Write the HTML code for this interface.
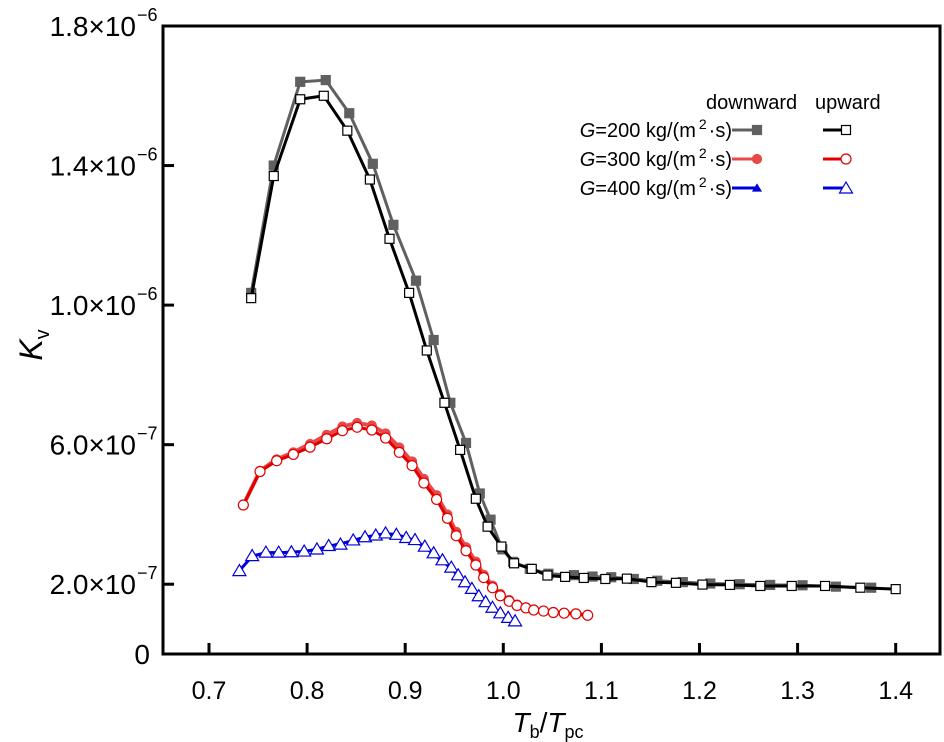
<!DOCTYPE html>
<html><head><meta charset="utf-8"><style>
body{margin:0;background:#fff;}
svg{display:block;font-family:"Liberation Sans",Arial,sans-serif;}
</style></head><body>
<svg id="chart" width="944" height="742" viewBox="0 0 944 742" xmlns="http://www.w3.org/2000/svg"></svg>
<script>
// Data (K_v in units of 1e-7)
const g200UpT = [0.743,0.766,0.793,0.817,0.841,0.864,0.884,0.904,0.922,0.940,0.956,0.972,0.984,0.998,1.011,1.029,1.045,1.063,1.082,1.104,1.126,1.151,1.176,1.203,1.231,1.262,1.294,1.328,1.364,1.400];
const g200UpV = [10.2,13.7,15.9,16.0,15.0,13.6,11.9,10.35,8.7,7.2,5.85,4.45,3.65,3.08,2.6,2.44,2.25,2.21,2.18,2.15,2.16,2.06,2.04,1.99,1.98,1.95,1.95,1.95,1.90,1.86];
const g200DownT = [0.743,0.766,0.793,0.819,0.843,0.867,0.888,0.911,0.929,0.946,0.962,0.976,0.987,0.999,1.010,1.027,1.046,1.072,1.091,1.110,1.133,1.157,1.183,1.211,1.241,1.272,1.305,1.339,1.375];
const g200DownV = [10.35,14.0,16.4,16.45,15.5,14.05,12.3,10.7,9.0,7.2,6.05,4.6,3.85,3.0,2.64,2.44,2.3,2.26,2.22,2.2,2.15,2.1,2.06,2.02,2.0,1.98,1.97,1.93,1.9];
const g300UpT = [0.735,0.752,0.769,0.786,0.803,0.820,0.836,0.851,0.866,0.880,0.894,0.907,0.919,0.932,0.943,0.952,0.962,0.972,0.980,0.989,0.997,1.006,1.014,1.023,1.031,1.041,1.051,1.062,1.074,1.086];
const g300UpV = [4.27,5.23,5.54,5.72,5.93,6.17,6.40,6.50,6.42,6.19,5.78,5.40,4.90,4.43,3.89,3.39,2.96,2.55,2.19,1.90,1.67,1.51,1.39,1.32,1.26,1.23,1.19,1.17,1.15,1.11];
const g300DownV = [4.27,5.25,5.58,5.78,6.02,6.28,6.52,6.62,6.55,6.32,5.92,5.52,5.02,4.55,4.0,3.5,3.06,2.65,2.27,1.96,1.72,1.55,1.42,1.34,1.28,1.24,1.2,1.18,1.15,1.11];
const g400UpT = [0.731,0.744,0.758,0.771,0.784,0.797,0.810,0.822,0.834,0.847,0.859,0.870,0.880,0.891,0.901,0.910,0.920,0.929,0.938,0.947,0.954,0.961,0.968,0.975,0.982,0.989,0.997,1.005,1.012];
const g400UpV = [2.39,2.82,2.92,2.92,2.93,2.95,3.01,3.11,3.15,3.27,3.36,3.41,3.47,3.43,3.34,3.28,3.09,2.90,2.70,2.49,2.27,2.07,1.88,1.67,1.50,1.34,1.18,1.05,0.95];
const g400DownV = [2.39,2.80,2.90,2.90,2.92,2.94,3.0,3.09,3.16,3.25,3.35,3.4,3.45,3.42,3.34,3.24,3.06,2.86,2.66,2.45,2.24,2.04,1.85,1.65,1.48,1.32,1.16,1.03,0.93];
const xTicks = [0.7,0.8,0.9,1.0,1.1,1.2,1.3,1.4];
const xTickLabels = ["0.7","0.8","0.9","1.0","1.1","1.2","1.3","1.4"];
const yTicks = [0,2,6,10,14,18];
const yTickMant = ["0","2.0","6.0","1.0","1.4","1.8"];
const yTickExp = ["","\u22127","\u22127","\u22126","\u22126","\u22126"];

const svg = document.getElementById('chart');
const NS = 'http://www.w3.org/2000/svg';
const L=163,R=940,T=26,B=654;
const xMin=0.7-46/981, xMax=0.7+(940-209)/981;
function X(t){return L+(t-xMin)/(xMax-xMin)*(R-L);}
function Y(v){return B-(v/18)*(B-T);}
function mk(tag,attrs,parent){const e=document.createElementNS(NS,tag);for(const k in attrs)e.setAttribute(k,attrs[k]);(parent||svg).appendChild(e);return e;}

const frame = mk('rect',{x:L,y:T,width:R-L,height:B-T,fill:'none',stroke:'#000','stroke-width':3});



xTicks.forEach((t,i)=>{
  const tk=mk('line',{x1:X(t),x2:X(t),y1:B,y2:B-11,stroke:'#000','stroke-width':3});
  
  
  const tx=mk('text',{x:X(t),y:699,'font-size':25,'text-anchor':'middle'});
  tx.textContent=xTickLabels[i];
  
  
});
yTicks.forEach((v,i)=>{
  const tk=mk('line',{x1:L,x2:L+11,y1:Y(v),y2:Y(v),stroke:'#000','stroke-width':3});
  
  
  const tx=mk('text',{x:v===0?150:136,y:Y(v)+10,'font-size':28,'text-anchor':'end'});
  tx.textContent=yTickMant[i]+(yTickExp[i]?'\u00d710':'');
  
  
  if(yTickExp[i]){
    const ex=mk('text',{x:137,y:Y(v)-5,'font-size':18,'text-anchor':'start'});
    ex.textContent=yTickExp[i];
    
    
  }
});

function series(ts,vs,color,marker,filled,name,w){
  const g=mk('g',{});
  
  
  const pts=ts.map((t,i)=>X(t)+','+Y(vs[i])).join(' ');
  mk('polyline',{points:pts,fill:'none',stroke:color,'stroke-width':w||3,'stroke-linejoin':'round'},g);
  ts.forEach((t,i)=>drawMarker(g,X(t),Y(vs[i]),color,marker,filled));
  return g;
}
function drawMarker(g,x,y,color,marker,filled){
  const fill=filled?color:'#fff';
  let m;
  if(marker==='sq') m=mk('rect',{x:x-4.5,y:y-4.5,width:9,height:9,fill:fill,stroke:filled?color:'#000','stroke-width':1.2},g);
  else if(marker==='ci') m=mk('circle',{cx:x,cy:y,r:filled?4.5:5,fill:fill,stroke:color,'stroke-width':1.2},g);
  else m=mk('polygon',{points:`${x},${y-(filled?3.5:6)} ${x-(filled?4:6.5)},${y+(filled?3:5)} ${x+(filled?4:6.5)},${y+(filled?3:5)}`,fill:fill,stroke:color,'stroke-width':1.2},g);
  
  
}
series(g200DownT,g200DownV,'#606060','sq',true,'series-g200-downward');
series(g200UpT,g200UpV,'#000','sq',false,'series-g200-upward');
series(g300UpT,g300DownV,'#e84848','ci',true,'series-g300-downward',4);
series(g300UpT,g300UpV,'#e00000','ci',false,'series-g300-upward');
series(g400UpT,g400DownV,'#0000d8','tr',true,'series-g400-downward');
series(g400UpT,g400UpV,'#0000d8','tr',false,'series-g400-upward',2);

const xt=mk('text',{x:548,y:732,'font-size':28,'text-anchor':'middle'});
xt.innerHTML='<tspan font-style="italic">T</tspan><tspan font-size="18" dy="6">b</tspan><tspan dy="-6">/</tspan><tspan font-style="italic">T</tspan><tspan font-size="18" dy="6">pc</tspan>';


const yt=mk('text',{x:0,y:0,'font-size':32,'text-anchor':'middle',transform:'translate(42,345) rotate(-90)'});
yt.innerHTML='<tspan font-style="italic">K</tspan><tspan font-size="20" dy="7">v</tspan>';



const lg=mk('g',{});


const h1=mk('text',{x:706,y:109,'font-size':20},lg);h1.textContent='downward';


const h2=mk('text',{x:815,y:109,'font-size':20},lg);h2.textContent='upward';


const legG=['200','300','400'];
const legDown=['#606060','#e84848','#0000d8'];
const legUp=['#000','#e00000','#0000d8'];
const legM=['sq','ci','tr'];
legG.forEach((gv,i)=>{
  const y=130+i*29;
  const t=mk('text',{x:732,y:y+7,'font-size':20,'text-anchor':'end'},lg);
  t.innerHTML='<tspan font-style="italic">G</tspan>='+gv+' kg/(m<tspan font-size="14" dx="3" dy="-8">2</tspan><tspan dx="2" dy="8">\u00b7s)</tspan>';
  
  
  mk('line',{x1:732,x2:757,y1:y,y2:y,stroke:legDown[i],'stroke-width':3},lg);
  drawMarker(lg,757,y,legDown[i],legM[i],true);
  mk('line',{x1:823,x2:846,y1:y,y2:y,stroke:legUp[i],'stroke-width':3},lg);
  drawMarker(lg,846,y,legUp[i],legM[i],false);
});
</script>
</body></html>
